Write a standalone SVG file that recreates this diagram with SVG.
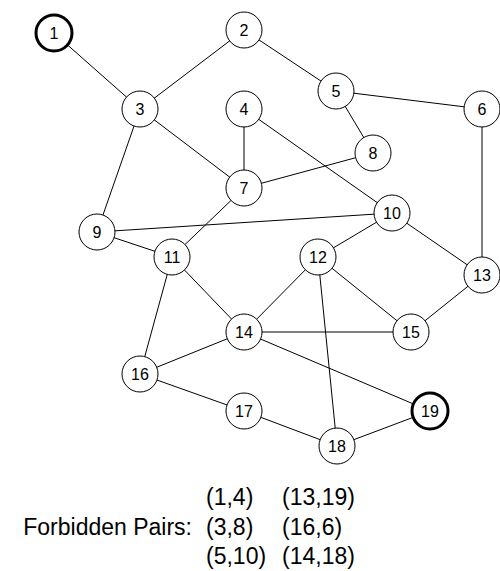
<svg xmlns="http://www.w3.org/2000/svg" width="500" height="571" viewBox="0 0 500 571">
<style>
.e line{stroke:#000;stroke-width:1}
.n circle{fill:#fff;stroke:#000;stroke-width:1}
.n.b circle{stroke-width:3}
.n text{font-family:"Liberation Sans",Arial,sans-serif;font-size:16px;text-anchor:middle;dominant-baseline:central;fill:#000}
.t{font-family:"Liberation Sans",Arial,sans-serif;font-size:23px;fill:#000}
</style>
<rect width="500" height="571" fill="#fff"/>
<g id="edges" class="e">
<line x1="54" y1="33" x2="140" y2="109"/>
<line x1="244" y1="30" x2="140" y2="109"/>
<line x1="244" y1="30" x2="336" y2="91"/>
<line x1="140" y1="109" x2="244" y2="188"/>
<line x1="140" y1="109" x2="97" y2="232"/>
<line x1="244" y1="109" x2="244" y2="188"/>
<line x1="244" y1="109" x2="392" y2="213"/>
<line x1="336" y1="91" x2="482" y2="109"/>
<line x1="336" y1="91" x2="373" y2="153"/>
<line x1="244" y1="188" x2="373" y2="153"/>
<line x1="482" y1="109" x2="482" y2="275"/>
<line x1="244" y1="188" x2="172" y2="257"/>
<line x1="97" y1="232" x2="392" y2="213"/>
<line x1="97" y1="232" x2="172" y2="257"/>
<line x1="392" y1="213" x2="318" y2="257"/>
<line x1="392" y1="213" x2="482" y2="275"/>
<line x1="172" y1="257" x2="244" y2="332"/>
<line x1="172" y1="257" x2="140" y2="374"/>
<line x1="318" y1="257" x2="244" y2="332"/>
<line x1="318" y1="257" x2="411" y2="332"/>
<line x1="318" y1="257" x2="337" y2="446"/>
<line x1="482" y1="275" x2="411" y2="332"/>
<line x1="244" y1="332" x2="411" y2="332"/>
<line x1="244" y1="332" x2="140" y2="374"/>
<line x1="244" y1="332" x2="430" y2="411"/>
<line x1="140" y1="374" x2="244" y2="411"/>
<line x1="244" y1="411" x2="337" y2="446"/>
<line x1="337" y1="446" x2="430" y2="411"/>
</g>
<g id="n1" class="n b"><circle cx="54" cy="33" r="18"/><text x="54" y="33">1</text></g>
<g id="n2" class="n"><circle cx="244" cy="30" r="18"/><text x="244" y="30">2</text></g>
<g id="n3" class="n"><circle cx="140" cy="109" r="18"/><text x="140" y="109">3</text></g>
<g id="n4" class="n"><circle cx="244" cy="109" r="18"/><text x="244" y="109">4</text></g>
<g id="n5" class="n"><circle cx="336" cy="91" r="18"/><text x="336" y="91">5</text></g>
<g id="n6" class="n"><circle cx="482" cy="109" r="18"/><text x="482" y="109">6</text></g>
<g id="n7" class="n"><circle cx="244" cy="188" r="18"/><text x="244" y="188">7</text></g>
<g id="n8" class="n"><circle cx="373" cy="153" r="18"/><text x="373" y="153">8</text></g>
<g id="n9" class="n"><circle cx="97" cy="232" r="18"/><text x="97" y="232">9</text></g>
<g id="n10" class="n"><circle cx="392" cy="213" r="18"/><text x="392" y="213">10</text></g>
<g id="n11" class="n"><circle cx="172" cy="257" r="18"/><text x="172" y="257">11</text></g>
<g id="n12" class="n"><circle cx="318" cy="257" r="18"/><text x="318" y="257">12</text></g>
<g id="n13" class="n"><circle cx="482" cy="275" r="18"/><text x="482" y="275">13</text></g>
<g id="n14" class="n"><circle cx="244" cy="332" r="18"/><text x="244" y="332">14</text></g>
<g id="n15" class="n"><circle cx="411" cy="332" r="18"/><text x="411" y="332">15</text></g>
<g id="n16" class="n"><circle cx="140" cy="374" r="18"/><text x="140" y="374">16</text></g>
<g id="n17" class="n"><circle cx="244" cy="411" r="18"/><text x="244" y="411">17</text></g>
<g id="n18" class="n"><circle cx="337" cy="446" r="18"/><text x="337" y="446">18</text></g>
<g id="n19" class="n b"><circle cx="430" cy="411" r="18"/><text x="430" y="411">19</text></g>
<g id="legend" class="t">
<text x="192" y="535" text-anchor="end">Forbidden Pairs:</text>
<text x="206" y="505">(1,4)</text>
<text x="206" y="535">(3,8)</text>
<text x="206" y="564">(5,10)</text>
<text x="282" y="505">(13,19)</text>
<text x="282" y="535">(16,6)</text>
<text x="282" y="564">(14,18)</text>
</g>
</svg>
